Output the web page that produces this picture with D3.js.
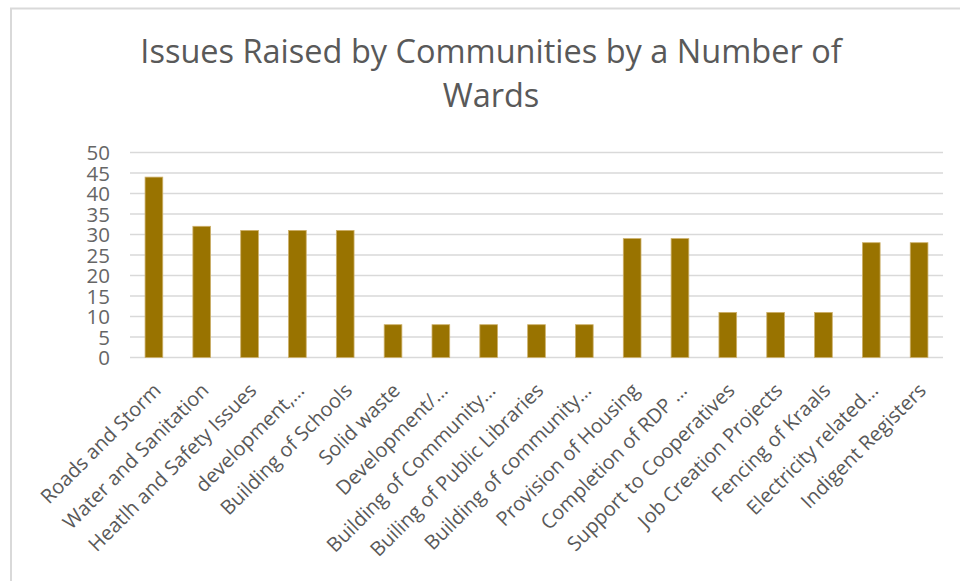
<!DOCTYPE html>
<html>
<head>
<meta charset="utf-8">
<script src="https://cdn.jsdelivr.net/npm/d3@7/dist/d3.min.js"></script>
<style>
  html, body { margin: 0; padding: 0; background: #fff; }
  svg { display: block; }
  text { font-family: "Open Sans", "Segoe UI", Arial, sans-serif; }
</style>
</head>
<body>
<svg id="chart" width="960" height="581"></svg>
<script>
// Issues raised by communities, counted by number of wards
const categories = [
  "Roads and Storm",
  "Water and Sanitation",
  "Heatlh and Safety Issues",
  "development,\u2026",
  "Building of Schools",
  "Solid waste",
  "Development/\u2026",
  "Building of Community\u2026",
  "Builing of Public Libraries",
  "Building of community\u2026",
  "Provision of Housing",
  "Completion of RDP \u2026",
  "Support to Cooperatives",
  "Job Creation Projects",
  "Fencing of Kraals",
  "Electricity related\u2026",
  "Indigent Registers"
];
const wardCounts = [44, 32, 31, 31, 31, 8, 8, 8, 8, 8, 29, 29, 11, 11, 11, 28, 28];
const yTicks = [0, 5, 10, 15, 20, 25, 30, 35, 40, 45, 50];
const titleLines = ["Issues Raised by Communities by a Number of", "Wards"];

const svg = d3.select("#chart");
const plot = { left: 130, right: 943, top: 152.5, bottom: 357.5 };

// chart frame
svg.append("rect")
  .attr("x", 11).attr("y", 8.5)
  .attr("width", 980).attr("height", 600)
  .attr("fill", "#fff")
  .attr("stroke", "#d9d9d9").attr("stroke-width", 2);

// title
const title = svg.append("text")
  .attr("text-anchor", "middle")
  .attr("fill", "#595959")
  .style("font-size", "32.5px");
title.selectAll("tspan").data(titleLines).join("tspan")
  .attr("x", 491)
  .attr("y", (d, i) => 63 + i * 44)
  .text(d => d);

const x = d3.scaleBand().domain(categories)
  .range([plot.left, plot.right]).paddingInner(0.63).paddingOuter(0.315);
const y = d3.scaleLinear().domain([0, 50]).range([plot.bottom, plot.top]);

// horizontal gridlines
svg.append("g").selectAll("line").data(yTicks).join("line")
  .attr("x1", plot.left).attr("x2", plot.right)
  .attr("y1", d => y(d)).attr("y2", d => y(d))
  .attr("stroke", "#d9d9d9").attr("stroke-width", 1.5);

// y axis labels
const yAxis = svg.append("g")
  .attr("transform", `translate(${plot.left - 20},0)`)
  .call(d3.axisLeft(y).tickValues(yTicks).tickSize(0).tickPadding(0));
yAxis.select(".domain").remove();
yAxis.selectAll("text")
  .attr("fill", "#666666")
  .style("font-size", "20.5px")
  .attr("dy", "0.36em");

// bars
svg.append("g").selectAll("rect").data(wardCounts).join("rect")
  .attr("x", (d, i) => x(categories[i]))
  .attr("y", d => y(d))
  .attr("width", x.bandwidth())
  .attr("height", d => y(0) - y(d))
  .attr("fill", "#997300")
  .attr("stroke", "#cdb06a").attr("stroke-width", 0.8);

// category labels, rotated
svg.append("g").selectAll("text").data(categories).join("text")
  .attr("transform", d => `translate(${x(d) + x.bandwidth() / 2 - 2},${plot.bottom + 24}) rotate(-45)`)
  .attr("text-anchor", "end")
  .attr("dy", "0.72em")
  .attr("fill", "#595959")
  .style("font-size", "20px")
  .text(d => d);
</script>
</body>
</html>
